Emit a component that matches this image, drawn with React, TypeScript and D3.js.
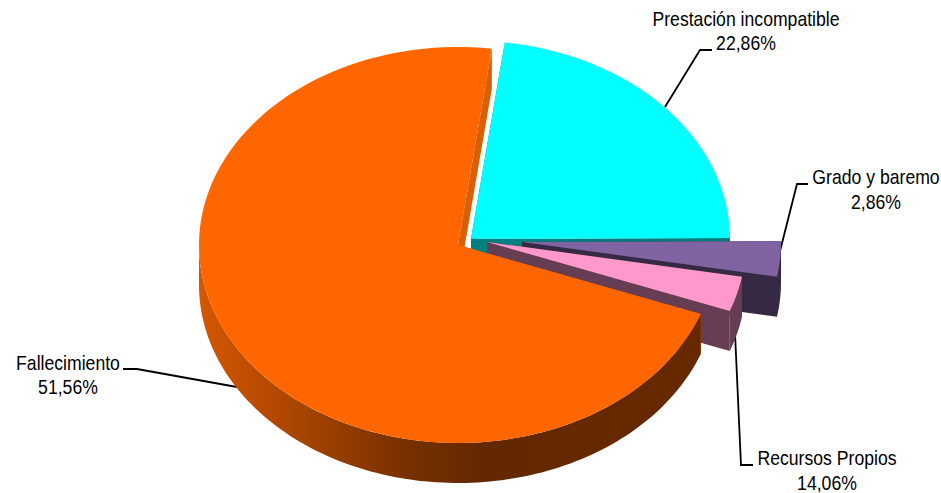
import React, { useMemo } from "react";
import * as d3 from "d3";

const categories = ["Prestación incompatible", "Grado y baremo", "Recursos Propios", "Fallecimiento"];
const printedLabels = ["22,86%", "2,86%", "14,06%", "51,56%"];
const sliceShares = [22.86, 2.86, 2.86, 71.42];

const W = 941, H = 493;
const RX = 259, RY = 198, DEPTH = 40;
const START = (7.5 * Math.PI) / 180;

const centers = [[471, 238.8], [522, 242], [487, 242], [458, 245]];
const topColors = ["#00FFFF", "#8064A2", "#FF99CC", "#FF6600"];
const wallColors = ["#007F7F", "#352943", "#663D52", "url(#orangeWall)"];
const innerColors = ["#007F7F", "#352943", "#663D52", "#D95F00"];
const drawOrder = [0, 1, 2, 3];

const leaders: [number, number][][] = [
  [[665, 107], [700, 50], [712, 50]],
  [[778, 259], [797, 184], [808, 184]],
  [[735, 333], [741, 465], [753, 465]],
  [[237, 387], [137, 369], [123, 369]],
];
const labelPos: [number, number, number, number][] = [
  [746, 26, 746, 50],
  [876, 184, 876, 209],
  [827, 465, 827, 490],
  [68, 370, 68, 394],
];
const TEXT_SQUEEZE = 0.86;

const pt = (c: number[], t: number, dy = 0): [number, number] => [
  c[0] + RX * Math.sin(t),
  c[1] - RY * Math.cos(t) + dy,
];

const arcPts = (c: number[], a0: number, a1: number, dy = 0) =>
  d3.range(0, 121).map((i) => pt(c, a0 + ((a1 - a0) * i) / 120, dy));

const line = d3.line();

export default function App() {
  const arcs = useMemo(
    () =>
      d3
        .pie<number>()
        .sort(null)
        .startAngle(START)
        .endAngle(START + 2 * Math.PI)(sliceShares),
    []
  );
  const x = d3.scaleLinear().domain([199, 700]).range([0, 1]);

  return (
    <svg
      width={W}
      height={H}
      viewBox={`0 0 ${W} ${H}`}
      style={{ position: "absolute", left: 0, top: 0, background: "#fff" }}
    >
      <defs>
        <linearGradient id="orangeWall" gradientUnits="userSpaceOnUse" x1={199} x2={700} y1={0} y2={0}>
          <stop offset={x(199)} stopColor="#D45700" />
          <stop offset={x(300)} stopColor="#A84400" />
          <stop offset={x(400)} stopColor="#7A3100" />
          <stop offset={x(480)} stopColor="#642800" />
          <stop offset={x(700)} stopColor="#662900" />
        </linearGradient>
      </defs>
      {leaders.map((l, i) => (
        <path key={i} d={line(l) || ""} fill="none" stroke="#000" strokeWidth={1.8} />
      ))}
      {drawOrder.map((i) => {
        const a = arcs[i];
        const c = centers[i];
        const a0 = a.startAngle;
        const a1 = a.endAngle;
        const top = [c as [number, number], ...arcPts(c, a0, a1)];
        const p0 = pt(c, a0);
        const p1 = pt(c, a1);
        const apex = c as [number, number];
        const apexLow: [number, number] = [c[0], c[1] + DEPTH];
        // only the front half of the rim can be seen
        const v0 = Math.max(a0, Math.PI / 2);
        const v1 = Math.min(a1, (3 * Math.PI) / 2);
        const outer =
          v1 > v0 ? [...arcPts(c, v0, v1), ...arcPts(c, v0, v1, DEPTH).reverse()] : [];
        const wallStart = [apex, p0, [p0[0], p0[1] + DEPTH], apexLow] as [number, number][];
        const wallEnd = [apex, p1, [p1[0], p1[1] + DEPTH], apexLow] as [number, number][];
        return (
          <g key={categories[i]}>
            <path d={`${line(wallStart)}Z`} fill={innerColors[i]} />
            <path d={`${line(wallEnd)}Z`} fill={innerColors[i]} />
            {outer.length > 0 && <path d={`${line(outer)}Z`} fill={wallColors[i]} />}
            <path d={`${line(top)}Z`} fill={topColors[i]} />
          </g>
        );
      })}
      <g
        fontFamily="'Liberation Sans', Arial, sans-serif"
        fontSize={20.5}
        fill="#000"
        textAnchor="middle"
      >
        {categories.map((name, i) => (
          <g key={name}>
            <text transform={`translate(${labelPos[i][0]},${labelPos[i][1]}) scale(${TEXT_SQUEEZE},1)`}>{name}</text>
            <text transform={`translate(${labelPos[i][2]},${labelPos[i][3]}) scale(${TEXT_SQUEEZE},1)`}>{printedLabels[i]}</text>
          </g>
        ))}
      </g>
    </svg>
  );
}
